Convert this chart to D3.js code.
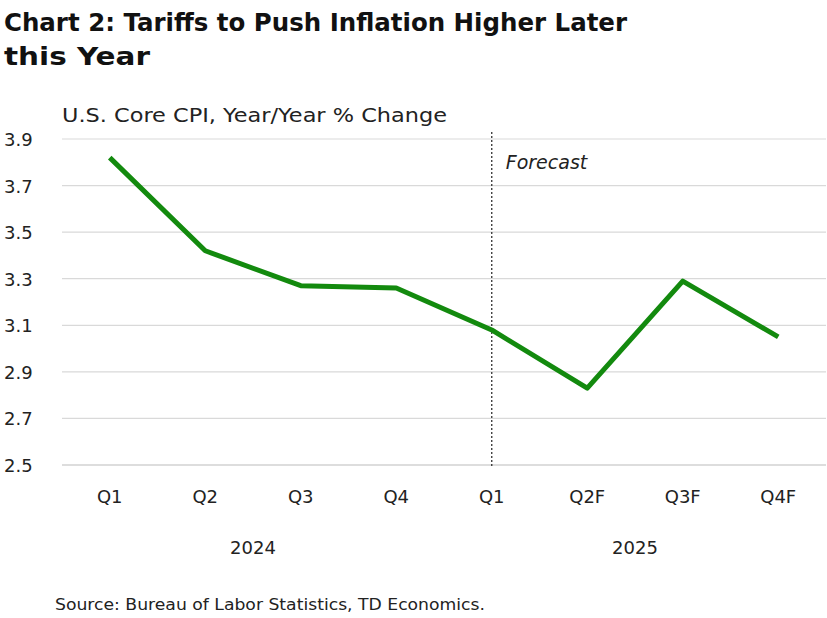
<!DOCTYPE html>
<html><head><meta charset="utf-8">
<script src="https://cdn.jsdelivr.net/npm/d3@7"></script>
<style>body{margin:0;background:#fff}svg{font-family:"DejaVu Sans",sans-serif}</style>
</head><body><svg id="c" width="827" height="618"></svg>
<script>
const categories=["Q1","Q2","Q3","Q4","Q1","Q2F","Q3F","Q4F"];
const values=[3.82,3.42,3.27,3.26,3.08,2.83,3.29,3.05];
const yTicks=[2.5,2.7,2.9,3.1,3.3,3.5,3.7,3.9];
const years=[{label:"2024",from:0,to:3},{label:"2025",from:4,to:7}];
const svg=d3.select("#c");
const x=d3.scaleBand().domain(d3.range(categories.length)).range([62,826]);
const y=d3.scaleLinear().domain([2.5,3.9]).range([465,139]);
function fit(t,w){t.attr("textLength",w).attr("lengthAdjust","spacingAndGlyphs");return t;}
fit(svg.append("text").attr("x",4).attr("y",31).attr("font-size",24).attr("font-weight",700).attr("fill","#111").text("Chart 2: Tariffs to Push Inflation Higher Later"),623);
fit(svg.append("text").attr("x",4).attr("y",65).attr("font-size",24).attr("font-weight",700).attr("fill","#111").text("this Year"),146);
fit(svg.append("text").attr("x",62).attr("y",122).attr("font-size",19).attr("fill","#222").text("U.S. Core CPI, Year/Year % Change"),385);
svg.append("g").selectAll("line").data(yTicks).join("line")
 .attr("x1",62).attr("x2",826).attr("y1",d=>y(d)).attr("y2",d=>y(d))
 .attr("stroke",d=>d===2.5?"#bbb":"#d9d9d9").attr("stroke-width",1.2);
svg.append("g").selectAll("text").data(yTicks).join("text")
 .attr("x",4).attr("y",d=>y(d)+7).attr("font-size",18).attr("fill","#222").text(d=>d.toFixed(1));
svg.append("g").selectAll("text").data(categories).join("text")
 .attr("x",(d,i)=>x(i)+x.bandwidth()/2).attr("y",503).attr("text-anchor","middle").attr("font-size",18).attr("fill","#222").text(d=>d);
svg.append("g").selectAll("text").data(years).join("text")
 .attr("x",d=>(x(d.from)+x(d.to)+x.bandwidth())/2).attr("y",554).attr("text-anchor","middle").attr("font-size",18).attr("fill","#222").text(d=>d.label);
const fx=x(4)+x.bandwidth()/2;
svg.append("line").attr("x1",fx).attr("x2",fx).attr("y1",132).attr("y2",468).attr("stroke","#333").attr("stroke-width",1.3).attr("stroke-dasharray","2,2");
svg.append("text").attr("x",fx+14).attr("y",169).attr("font-size",19).attr("font-style","italic").attr("fill","#222").text("Forecast");
svg.append("path").datum(values).attr("fill","none").attr("stroke","#138a0e").attr("stroke-width",5).attr("stroke-linejoin","round")
 .attr("d",d3.line().x((d,i)=>x(i)+x.bandwidth()/2).y(d=>y(d)));
fit(svg.append("text").attr("x",55).attr("y",610).attr("font-size",15).attr("fill","#222").text("Source: Bureau of Labor Statistics, TD Economics."),430);
</script></body></html>
